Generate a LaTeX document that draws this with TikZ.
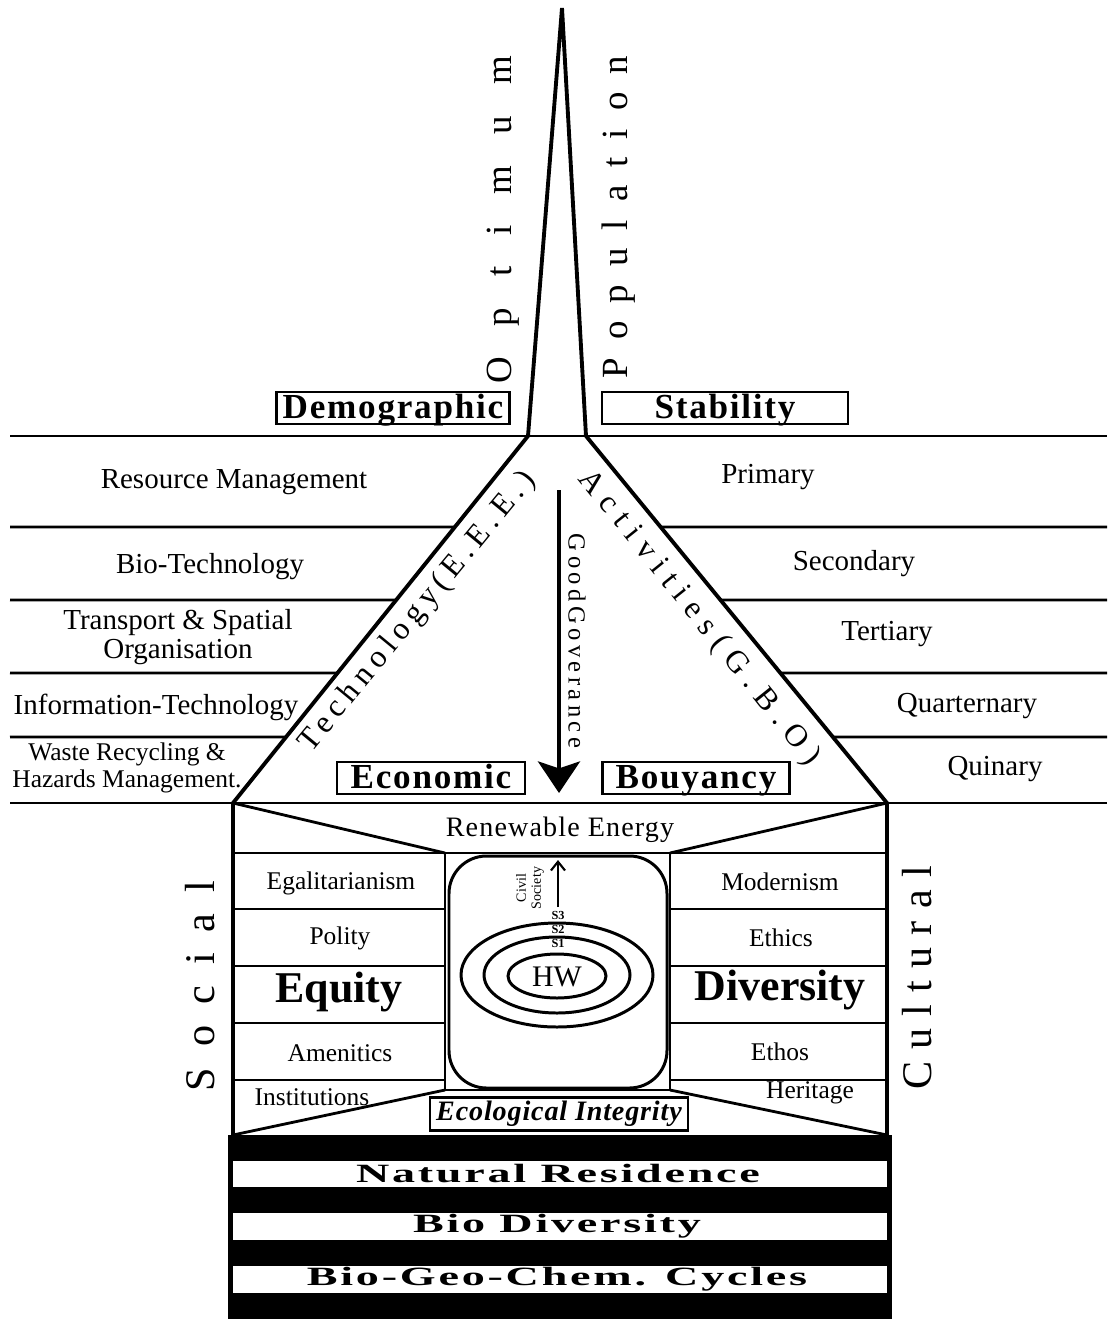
\documentclass[tikz,border=0pt]{standalone}
\usepackage{fontspec}
\setmainfont{Liberation Serif}
\usetikzlibrary{arrows.meta,calc}
\newcommand\trackby[1]{\addfontfeatures{LetterSpace=#1}}
\newcommand\widen[1]{\scalebox{1.75}[1]{#1}}

\begin{document}
\begin{tikzpicture}[
  x=0.02cm,y=-0.02cm,
  heavy/.style={line width=2.2pt},
  rule/.style={line width=1.6pt},
  ring/.style={line width=1.7pt},
  rowtext/.style={font=\fontsize{16.5}{17}\selectfont,align=center,inner sep=0pt},
  celltext/.style={font=\fontsize{14.5}{16}\selectfont,inner sep=0pt},
  bigword/.style={font=\fontsize{25}{27}\selectfont\bfseries,inner sep=0pt},
  tagbox/.style={draw,line width=1.6pt,minimum height=0.64cm,inner sep=0pt,
    text height=14pt,text depth=2pt,
    font=\fontsize{20}{22}\selectfont\bfseries\trackby{5}},
  tiltword/.style={font=\fontsize{18}{20}\selectfont,inner sep=0pt},
  upword/.style={rotate=90,font=\fontsize{21}{22}\selectfont,inner sep=0pt},
  bandword/.style={font=\fontsize{15}{16}\selectfont\bfseries\trackby{6},inner sep=0pt},
  govarrow/.style={line width=1.9pt,-{Stealth[length=18pt,width=24pt,inset=4pt]}},
  civarrow/.style={line width=1.2pt,-{Straight Barb[length=5pt,width=8pt]}}
]
  \fill[white] (0,0) rectangle (1107,1319);
  \useasboundingbox (0,0) rectangle (1107,1319);

  % spire and pyramid
  \coordinate (apex) at (562,8);
  \coordinate (spL) at (528,436);
  \coordinate (spR) at (586,436);
  \coordinate (botL) at (233,803);
  \coordinate (botR) at (887,803);
  \draw[heavy,line join=miter] (spL) -- (apex) -- (spR);
  \draw[heavy] (spL) -- (botL);
  \draw[heavy] (spR) -- (botR);
  \draw[rule] (10,436) -- (1107,436);
  \draw[rule] (10,803) -- (1107,803);
  \foreach \yy/\ff in {527/0.248,600/0.447,673/0.646,737/0.820} {
    \draw[rule] (10,\yy) -- ($(spL)!\ff!(botL)$);
    \draw[rule] ($(spR)!\ff!(botR)$) -- (1107,\yy);
  }

  \node[upword] (optimum) at (503,220) {\trackby{84}Optimum};
  \node[upword] (population) at (619,217) {\trackby{49}Population};
  \node[tagbox,minimum width=4.66cm] (demog) at (393,408) {Demographic};
  \node[tagbox,minimum width=4.92cm] (stab) at (725,408) {Stability};

  \node[rowtext] (resman) at (234,482) {Resource Management};
  \node[rowtext] (biotech) at (210,567) {Bio-Technology};
  \node[rowtext] (transp) at (178,637) {Transport \& Spatial\\Organisation};
  \node[rowtext] (infotech) at (156,707) {Information-Technology};
  \node[rowtext,font=\fontsize{14.5}{15.5}\selectfont] (waste) at (127,768) {Waste Recycling \&\\Hazards Management.};
  \node[rowtext] (primary) at (768,477) {Primary};
  \node[rowtext] (second) at (854,564) {Secondary};
  \node[rowtext] (tert) at (887,634) {Tertiary};
  \node[rowtext] (quart) at (967,706) {Quarternary};
  \node[rowtext] (quin) at (995,769) {Quinary};

  \node[tiltword,rotate=50.5] (techno) at (418,612) {\trackby{19}Technology(E.E.E.)};
  \node[tiltword,rotate=-51.3] (activ) at (699,618) {\trackby{28}Activities(G.B.O)};

  \coordinate (govtop) at (559,490);
  \coordinate (govtip) at (559,793);
  \draw[govarrow] (govtop) -- (govtip);
  \node[rotate=-90,font=\fontsize{14}{15}\selectfont,inner sep=0pt] (govern) at (577,641) {\trackby{18}GoodGoverance};
  \node[tagbox,minimum width=3.76cm] (econ) at (431,778) {Economic};
  \node[tagbox,minimum width=3.74cm] (bouy) at (696,778) {Bouyancy};

  % lower block
  \coordinate (inTL) at (445,853);
  \coordinate (inBR) at (670,1090);
  \coordinate (inTR) at (670,853);
  \coordinate (inBL) at (445,1090);
  \coordinate (boxBL) at (233,1135);
  \coordinate (boxBR) at (887,1135);
  \draw[heavy] (botL) -- (boxBL);
  \draw[heavy] (botR) -- (boxBR);
  \draw[rule] (233,853) -- (887,853);
  \draw[rule] (botL) -- (inTL);
  \draw[rule] (botR) -- (inTR);
  \draw[rule] (boxBL) -- (inBL);
  \draw[rule] (boxBR) -- (inBR);
  \draw[rule] (inTL) rectangle (inBR);
  \draw[ring,rounded corners=0.75cm] (449,856) rectangle (667,1088);
  \foreach \yy in {909,966,1023,1080} {
    \draw[rule] (233,\yy) -- (445,\yy);
    \draw[rule] (670,\yy) -- (887,\yy);
  }

  \node[font=\fontsize{16}{17}\selectfont\trackby{4},inner sep=0pt] (renew) at (560,830) {Renewable Energy};
  \node[celltext] (egal) at (341,883) {Egalitarianism};
  \node[celltext] (polity) at (340,938) {Polity};
  \node[bigword] (equity) at (339,992) {Equity};
  \node[celltext] (amen) at (340,1053) {Amenitics};
  \node[celltext] (instit) at (312,1097) {Institutions};
  \node[celltext] (modern) at (780,882) {Modernism};
  \node[celltext] (ethics) at (781,938) {Ethics};
  \node[bigword] (divers) at (780,990) {Diversity};
  \node[celltext] (ethos) at (780,1052) {Ethos};
  \node[celltext] (herit) at (810,1093) {Heritage};
  \node[draw,line width=1.6pt,minimum width=5.16cm,minimum height=0.66cm,inner sep=0pt,
    font=\fontsize{16}{17}\selectfont\bfseries\itshape\trackby{3}] (ecoint) at (559,1114) {Ecological Integrity};

  \node[upword,font=\fontsize{24}{25}\selectfont] (social) at (200,986) {\trackby{50}Social};
  \node[upword,font=\fontsize{24}{25}\selectfont] (cultural) at (917,978) {\trackby{29}Cultural};

  % human wellbeing rings
  \draw[ring] (557,975) ellipse [x radius=96, y radius=52];
  \draw[ring] (557,975) ellipse [x radius=73, y radius=38];
  \draw[ring] (557,976) ellipse [x radius=49, y radius=22];
  \node[font=\fontsize{17}{18}\selectfont,inner sep=0pt] (hw) at (557,977) {HW};
  \node[font=\fontsize{7}{8}\selectfont\bfseries,inner sep=0pt] (sthree) at (558,915) {S3};
  \node[font=\fontsize{7}{8}\selectfont\bfseries,inner sep=0pt] (stwo) at (558,929) {S2};
  \node[font=\fontsize{7}{8}\selectfont\bfseries,inner sep=0pt] (sone) at (558,943) {S1};
  \coordinate (civtail) at (558,907);
  \coordinate (civhead) at (558,860);
  \draw[civarrow] (civtail) -- (civhead);
  \node[rotate=90,align=center,font=\fontsize{8}{8.5}\selectfont,inner sep=0pt] (civil) at (530,888) {Civil\\Society};

  % ground layers
  \fill[black] (228,1135) rectangle (892,1319);
  \fill[white] (233,1161) rectangle (887,1187);
  \fill[white] (233,1213) rectangle (887,1240);
  \fill[white] (233,1266) rectangle (887,1293);
  \node[bandword] (natres) at (558,1174) {\widen{Natural Residence}};
  \node[bandword] (biodiv) at (557,1226) {\widen{Bio Diversity}};
  \node[bandword] (bgc) at (557,1279) {\widen{Bio-Geo-Chem. Cycles}};
\end{tikzpicture}
\end{document}
